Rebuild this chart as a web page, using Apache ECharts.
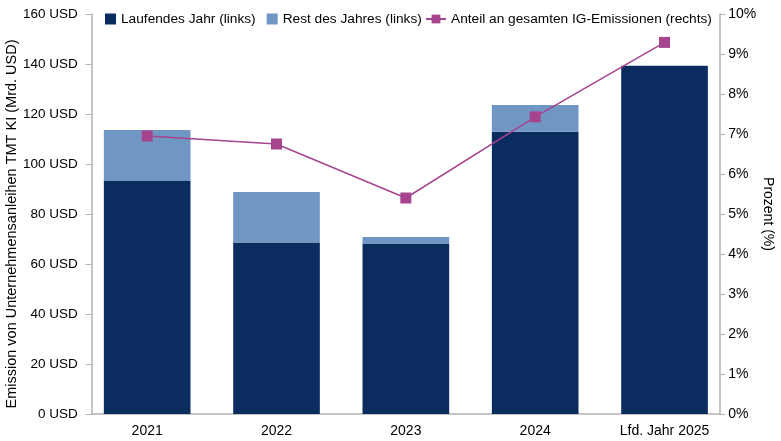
<!DOCTYPE html>
<html>
<head>
<meta charset="utf-8">
<script src="https://cdn.jsdelivr.net/npm/echarts@6/dist/echarts.min.js"></script>
<style>
html,body{margin:0;padding:0;background:#fff;}
#chart{width:781px;height:441px;}
</style>
</head>
<body>
<div id="chart"></div>
<script>
const categories = ['2021', '2022', '2023', '2024', 'Lfd. Jahr 2025'];
const laufendesJahr = [93.2, 68.6, 68.0, 112.9, 139.3];
const restDesJahres = [20.4, 20.2, 2.8, 10.7, 0];
const anteilIG = [6.95, 6.75, 5.4, 7.43, 9.29];
const leftTicks = [0, 20, 40, 60, 80, 100, 120, 140, 160];
const rightTicks = [0, 1, 2, 3, 4, 5, 6, 7, 8, 9, 10];

const navy = '#0b2c5f';
const lightBlue = '#7097c4';
const magenta = '#a6448e';
const axisGray = '#b3b3b3';
const font = 'Liberation Sans, Arial, sans-serif';

const leftMin = leftTicks[0], leftMax = leftTicks[leftTicks.length - 1], leftStep = leftTicks[1] - leftTicks[0];
const rightMin = rightTicks[0], rightMax = rightTicks[rightTicks.length - 1], rightStep = rightTicks[1] - rightTicks[0];

const chart = echarts.init(document.getElementById('chart'), null, {renderer: 'canvas'});
chart.setOption({
  animation: false,
  textStyle: {fontFamily: font, color: '#000'},
  grid: [
    {left: 82.5, right: 51.8, top: 14, height: 400, outerBoundsMode: 'none', containLabel: false},
    {left: 91.7, right: 61.7, top: 14, height: 400, outerBoundsMode: 'none', containLabel: false}
  ],
  legend: [{
    left: 100, top: 7, itemWidth: 11, itemHeight: 11, itemGap: 11,
    textStyle: {fontFamily: font, fontSize: 13.7, color: '#000'},
    data: [{name: 'Laufendes Jahr (links)', icon: 'rect'}, {name: 'Rest des Jahres (links)', icon: 'rect'}]
  }, {
    left: 420, top: 7, itemWidth: 20, itemHeight: 11, itemGap: 11,
    textStyle: {fontFamily: font, fontSize: 13.7, color: '#000'},
    data: ['Anteil an gesamten IG-Emissionen (rechts)']
  }],
  xAxis: [{
    type: 'category', gridIndex: 0, data: categories, boundaryGap: true,
    axisLine: {show: false}, axisTick: {show: false}, splitLine: {show: false},
    axisLabel: {fontSize: 14, color: '#000', margin: 10, fontFamily: font}
  }, {
    type: 'value', gridIndex: 1, min: 0, max: 1,
    axisLine: {show: true, onZero: false, lineStyle: {color: axisGray, width: 1.5}},
    axisTick: {show: false}, axisLabel: {show: false}, splitLine: {show: false}
  }],
  yAxis: [{
    type: 'value', gridIndex: 0, min: leftMin, max: leftMax, interval: leftStep,
    axisLine: {show: false}, axisTick: {show: false}, axisLabel: {show: false}, splitLine: {show: false}
  }, {
    type: 'value', gridIndex: 0, min: rightMin, max: rightMax, interval: rightStep,
    axisLine: {show: false}, axisTick: {show: false}, axisLabel: {show: false}, splitLine: {show: false}
  }, {
    type: 'value', gridIndex: 1, position: 'left', min: leftMin, max: leftMax, interval: leftStep,
    name: 'Emission von Unternehmensanleihen TMT KI (Mrd. USD)',
    nameLocation: 'middle', nameGap: 72, nameRotate: 90, nameMoveOverlap: false,
    nameTextStyle: {fontSize: 14.5, color: '#000', fontFamily: font, padding: [0, 20, 0, 0]},
    axisLine: {show: true, onZero: false, lineStyle: {color: axisGray, width: 1.5}},
    axisTick: {show: true, length: 6, lineStyle: {color: axisGray}},
    splitLine: {show: false},
    axisLabel: {formatter: '{value} USD', fontSize: 13.5, color: '#000', margin: 14, fontFamily: font}
  }, {
    type: 'value', gridIndex: 1, position: 'right', min: rightMin, max: rightMax, interval: rightStep,
    name: 'Prozent (%)',
    nameLocation: 'middle', nameGap: 42, nameRotate: -90, nameMoveOverlap: false,
    nameTextStyle: {fontSize: 14, color: '#000', fontFamily: font},
    axisLine: {show: true, onZero: false, lineStyle: {color: axisGray, width: 1.5}},
    axisTick: {show: true, length: 6, lineStyle: {color: axisGray}},
    splitLine: {show: false},
    axisLabel: {formatter: '{value}%', fontSize: 14, color: '#000', margin: 9, fontFamily: font}
  }],
  series: [{
    name: 'Laufendes Jahr (links)', type: 'bar', stack: 'total', barWidth: '67%',
    xAxisIndex: 0, yAxisIndex: 0,
    itemStyle: {color: navy}, data: laufendesJahr
  }, {
    name: 'Rest des Jahres (links)', type: 'bar', stack: 'total', barWidth: '67%',
    xAxisIndex: 0, yAxisIndex: 0,
    itemStyle: {color: lightBlue}, data: restDesJahres
  }, {
    name: 'Anteil an gesamten IG-Emissionen (rechts)', type: 'line',
    xAxisIndex: 0, yAxisIndex: 1,
    symbol: 'rect', symbolSize: 11,
    lineStyle: {color: magenta, width: 1.5}, itemStyle: {color: magenta},
    data: anteilIG, z: 5
  }]
});
</script>
</body>
</html>
